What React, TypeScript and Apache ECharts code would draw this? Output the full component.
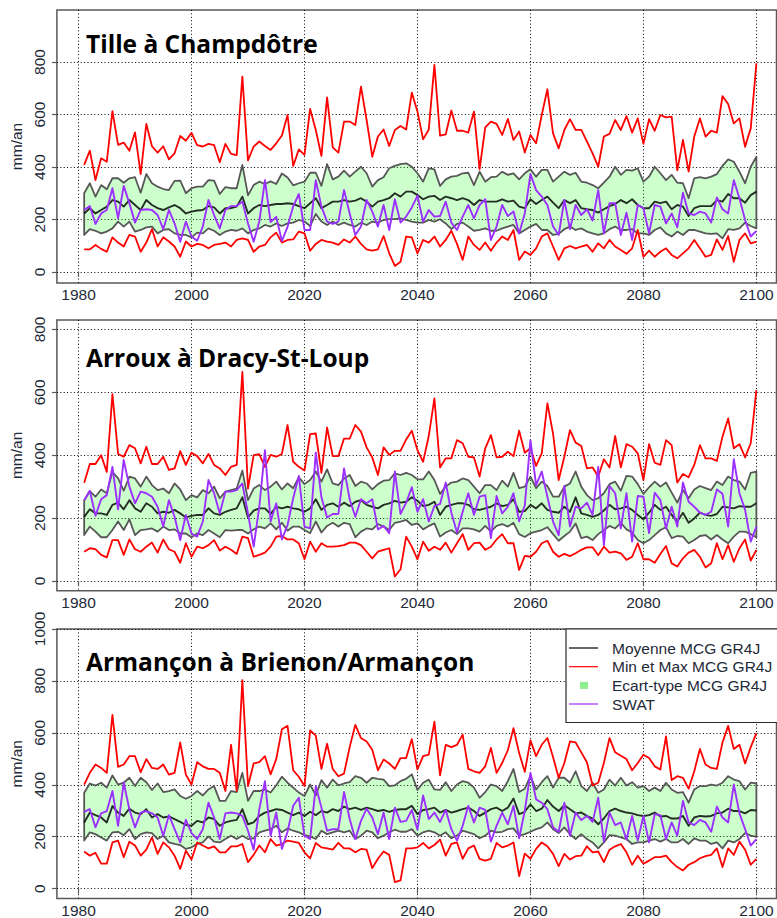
import React, { useEffect, useRef } from "react";
import * as echarts from "echarts";

// ---------- categories / ticks / texts ----------
const FIRST_YEAR = 1981;
const years: number[] = Array.from({ length: 120 }, (_, i) => FIRST_YEAR + i);
const xTickValues = [1980, 2000, 2020, 2040, 2060, 2080, 2100];
const yTicks800 = [0, 200, 400, 600, 800];
const yTicks1000 = [0, 200, 400, 600, 800, 1000];
const panelTitles = ["Tille à Champdôtre", "Arroux à Dracy-St-Loup", "Armançon à Brienon/Armançon"];
const legendLabels = ["Moyenne MCG GR4J", "Min et Max MCG GR4J", "Ecart-type MCG GR4J", "SWAT"];
const yName = "mm/an";

// ---------- Panel 1 : Tille à Champdôtre ----------
const p1Max = [
  408, 462, 350, 433, 420, 613, 484, 493, 462, 532,
  373, 564, 479, 455, 479, 429, 452, 518, 500, 530,
  483, 478, 488, 483, 418, 488, 450, 445, 744, 425,
  478, 497, 480, 465, 490, 520, 598, 404, 467, 446,
  621, 541, 442, 665, 475, 455, 573, 573, 560, 706,
  579, 439, 516, 543, 480, 541, 556, 543, 683, 611,
  505, 543, 789, 519, 524, 615, 538, 538, 531, 611,
  391, 551, 573, 564, 522, 583, 503, 535, 455, 522,
  490, 598, 696, 528, 471, 541, 582, 541, 541, 497,
  452, 401, 516, 526, 579, 541, 594, 531, 585, 488,
  582, 538, 598, 589, 592, 387, 503, 382, 516, 585,
  516, 538, 531, 670, 640, 566, 585, 477, 547, 795,
];
const p1Up = [
  300, 338, 287, 331, 315, 357, 357, 340, 357, 361,
  302, 373, 338, 325, 316, 312, 347, 348, 300, 319,
  325, 325, 350, 348, 297, 323, 319, 319, 408, 292,
  331, 344, 335, 345, 335, 375, 360, 330, 338, 344,
  378, 378, 328, 411, 353, 363, 386, 363, 382, 401,
  376, 325, 350, 361, 395, 404, 411, 414, 401, 376,
  344, 395, 391, 328, 353, 363, 366, 376, 378, 331,
  382, 344, 361, 363, 382, 370, 376, 353, 376, 391,
  363, 389, 389, 344, 363, 382, 370, 378, 344, 340,
  331, 319, 340, 363, 401, 370, 389, 386, 395, 344,
  363, 401, 376, 350, 370, 340, 338, 281, 357, 361,
  357, 363, 373, 404, 429, 420, 382, 338, 401, 439,
];
const p1Mean = [
  223, 243, 223, 236, 249, 274, 268, 249, 274, 255,
  236, 274, 255, 243, 236, 246, 255, 243, 223, 230,
  234, 236, 251, 246, 223, 243, 243, 249, 287, 223,
  243, 255, 251, 255, 259, 259, 262, 259, 251, 243,
  262, 281, 243, 255, 268, 268, 274, 268, 272, 281,
  268, 249, 268, 274, 281, 300, 287, 306, 306, 293,
  277, 287, 290, 274, 287, 281, 274, 281, 274, 255,
  274, 268, 268, 268, 277, 268, 272, 249, 243, 277,
  259, 274, 287, 264, 243, 274, 262, 274, 243, 239,
  236, 226, 239, 251, 259, 274, 262, 277, 255, 243,
  243, 268, 262, 268, 239, 255, 249, 213, 243, 251,
  251, 251, 274, 268, 297, 281, 281, 264, 293, 306,
];
const p1Low = [
  141, 163, 157, 147, 154, 166, 192, 173, 192, 154,
  160, 170, 173, 147, 160, 163, 147, 141, 141, 132,
  150, 147, 166, 157, 141, 154, 160, 157, 166, 147,
  160, 166, 179, 173, 185, 175, 185, 188, 198, 192,
  175, 221, 192, 179, 192, 179, 188, 179, 173, 188,
  179, 192, 188, 198, 201, 201, 204, 198, 192, 188,
  188, 198, 192, 201, 185, 163, 183, 188, 173, 157,
  160, 166, 157, 157, 166, 173, 179, 147, 160, 173,
  183, 160, 160, 141, 145, 163, 173, 160, 166, 154,
  147, 141, 147, 163, 173, 160, 160, 163, 147, 147,
  141, 160, 170, 147, 135, 154, 141, 160, 160, 154,
  147, 145, 147, 128, 163, 160, 166, 188, 175, 166,
];
const p1Min = [
  86, 86, 103, 88, 77, 132, 112, 97, 141, 135,
  77, 112, 163, 97, 132, 116, 97, 58, 116, 97,
  107, 103, 90, 103, 107, 112, 97, 122, 128, 122,
  77, 97, 103, 132, 150, 112, 122, 124, 154, 147,
  81, 107, 122, 116, 112, 103, 124, 112, 135, 107,
  86, 81, 86, 137, 71, 23, 39, 135, 132, 71,
  122, 112, 135, 97, 122, 157, 107, 46, 135, 103,
  84, 112, 81, 112, 135, 122, 160, 46, 78, 65,
  90, 135, 147, 97, 46, 90, 99, 90, 97, 103,
  77, 109, 90, 122, 97, 84, 69, 90, 160, 58,
  81, 58, 77, 90, 65, 52, 71, 90, 122, 90,
  58, 65, 124, 84, 137, 39, 122, 147, 109, 116,
];
const p1Swat = [
  236, 251, 183, 223, 236, 319, 204, 328, 262, 188,
  236, 239, 236, 217, 163, 236, 185, 115, 192, 135,
  119, 173, 274, 217, 166, 236, 251, 251, 268, 185,
  115, 192, 350, 190, 210, 118, 172, 250, 297, 160,
  160, 350, 249, 192, 183, 192, 312, 223, 141, 173,
  274, 230, 173, 255, 160, 277, 188, 211, 246, 290,
  192, 236, 211, 213, 268, 188, 160, 211, 255, 204,
  255, 277, 122, 173, 255, 213, 230, 147, 223, 373,
  312, 287, 255, 173, 141, 274, 163, 255, 217, 239,
  196, 312, 147, 262, 262, 141, 226, 122, 255, 243,
  147, 255, 249, 185, 223, 170, 302, 223, 217, 230,
  223, 188, 284, 239, 223, 350, 281, 198, 135, 156,
];

// ---------- Panel 2 : Arroux à Dracy-St-Loup ----------
const p2Max = [
  312, 372, 372, 400, 347, 594, 404, 395, 432, 422,
  374, 427, 372, 372, 395, 353, 358, 413, 369, 408,
  397, 374, 404, 369, 358, 337, 363, 369, 665, 294,
  400, 403, 363, 401, 395, 404, 496, 379, 363, 351,
  467, 469, 344, 488, 397, 397, 453, 453, 496, 475,
  425, 393, 337, 425, 401, 414, 414, 450, 478, 416,
  379, 461, 581, 361, 390, 390, 448, 438, 395, 393,
  332, 422, 464, 393, 395, 411, 397, 478, 408, 422,
  366, 406, 565, 469, 321, 395, 480, 440, 429, 358,
  361, 332, 387, 361, 461, 361, 435, 427, 406, 321,
  435, 376, 369, 448, 432, 313, 340, 330, 369, 432,
  390, 390, 382, 459, 517, 422, 435, 393, 438, 607,
];
const p2Up = [
  257, 286, 268, 291, 279, 347, 326, 287, 332, 326,
  300, 332, 305, 289, 294, 279, 310, 291, 257, 273,
  266, 289, 279, 300, 263, 284, 289, 294, 351, 257,
  294, 305, 289, 300, 316, 291, 310, 295, 330, 308,
  321, 348, 316, 355, 310, 305, 326, 337, 302, 316,
  310, 291, 308, 319, 321, 342, 337, 344, 337, 323,
  323, 348, 321, 277, 300, 313, 316, 326, 321, 300,
  279, 305, 305, 289, 319, 300, 344, 295, 300, 332,
  295, 316, 302, 268, 268, 300, 310, 348, 300, 273,
  257, 263, 279, 308, 316, 287, 334, 332, 308, 277,
  298, 316, 300, 313, 281, 249, 289, 263, 291, 302,
  295, 289, 316, 305, 332, 321, 316, 291, 344, 348,
];
const p2Mean = [
  204, 228, 215, 215, 210, 242, 249, 228, 257, 231,
  220, 247, 236, 215, 220, 217, 226, 215, 202, 207,
  210, 210, 231, 215, 210, 220, 226, 231, 266, 202,
  224, 231, 231, 213, 236, 231, 236, 231, 228, 220,
  231, 260, 226, 242, 247, 236, 249, 238, 252, 257,
  242, 236, 231, 242, 247, 255, 249, 252, 266, 255,
  238, 242, 252, 210, 236, 242, 247, 247, 242, 228,
  226, 231, 236, 247, 238, 242, 260, 220, 222, 242,
  231, 247, 226, 220, 217, 236, 220, 266, 215, 210,
  204, 210, 224, 242, 228, 231, 236, 226, 210, 196,
  217, 242, 226, 236, 210, 189, 217, 185, 199, 217,
  210, 207, 213, 236, 234, 231, 238, 236, 236, 247,
];
const p2Low = [
  146, 173, 157, 139, 139, 162, 189, 162, 196, 146,
  162, 164, 167, 157, 173, 162, 164, 151, 151, 139,
  151, 146, 162, 151, 139, 162, 160, 162, 162, 151,
  164, 173, 167, 183, 164, 185, 160, 173, 173, 162,
  152, 189, 154, 175, 185, 173, 185, 181, 139, 157,
  167, 164, 181, 173, 162, 185, 189, 194, 178, 183,
  164, 175, 183, 141, 154, 162, 149, 167, 167, 164,
  157, 175, 157, 175, 181, 173, 185, 149, 140, 152,
  157, 162, 171, 149, 128, 143, 157, 183, 136, 141,
  130, 149, 162, 175, 167, 185, 164, 154, 130, 120,
  130, 146, 162, 171, 136, 143, 141, 120, 130, 143,
  146, 132, 146, 132, 120, 141, 157, 157, 149, 139,
];
const p2Min = [
  93, 104, 101, 83, 75, 130, 130, 83, 132, 101,
  93, 109, 122, 90, 132, 101, 93, 58, 120, 77,
  109, 104, 114, 130, 97, 109, 99, 86, 141, 136,
  77, 83, 90, 109, 141, 143, 132, 132, 120, 69,
  125, 93, 120, 109, 109, 111, 114, 122, 122, 114,
  93, 72, 93, 99, 104, 14, 37, 141, 109, 69,
  125, 96, 109, 99, 122, 90, 120, 149, 99, 120,
  122, 99, 109, 132, 149, 120, 120, 35, 80, 77,
  93, 120, 128, 93, 77, 86, 79, 88, 99, 107,
  107, 82, 109, 90, 93, 88, 67, 77, 120, 69,
  69, 58, 86, 111, 56, 46, 72, 90, 99, 77,
  43, 56, 120, 69, 114, 61, 104, 132, 65, 99,
];
const p2Swat = [
  257, 287, 207, 260, 273, 363, 228, 385, 300, 247,
  284, 279, 268, 236, 173, 257, 204, 130, 210, 151,
  141, 189, 321, 279, 215, 284, 284, 289, 310, 215,
  109, 236, 416, 189, 247, 132, 178, 263, 334, 173,
  167, 408, 266, 202, 213, 213, 358, 260, 204, 260,
  247, 260, 164, 175, 152, 348, 213, 249, 298, 220,
  260, 189, 238, 245, 313, 217, 154, 220, 279, 210,
  268, 273, 136, 270, 215, 236, 279, 190, 240, 448,
  305, 348, 268, 189, 146, 302, 173, 236, 231, 249,
  210, 363, 114, 302, 279, 167, 279, 125, 270, 268,
  152, 281, 257, 167, 236, 173, 313, 252, 236, 217,
  210, 220, 291, 277, 173, 387, 279, 226, 125, 173,
];

// ---------- Panel 3 : Armançon à Brienon/Armançon ----------
const p3Max = [
  401, 446, 478, 465, 446, 669, 469, 478, 510, 510,
  448, 499, 465, 461, 478, 439, 446, 563, 439, 401,
  487, 471, 461, 461, 446, 376, 554, 376, 803, 395,
  482, 487, 510, 440, 499, 614, 627, 456, 431, 395,
  609, 589, 461, 558, 461, 433, 443, 545, 631, 580,
  567, 535, 456, 497, 482, 461, 503, 503, 576, 459,
  510, 516, 643, 436, 554, 545, 554, 593, 461, 452,
  446, 471, 542, 446, 484, 533, 618, 522, 450, 571,
  510, 554, 580, 507, 427, 484, 567, 563, 525, 487,
  397, 408, 484, 580, 525, 512, 499, 456, 484, 516,
  503, 471, 459, 586, 418, 433, 427, 385, 452, 538,
  478, 465, 461, 563, 627, 538, 554, 482, 545, 599,
];
const p3Up = [
  369, 405, 397, 408, 389, 436, 401, 408, 427, 395,
  427, 410, 380, 405, 372, 376, 382, 357, 346, 357,
  376, 359, 382, 395, 338, 338, 376, 372, 446, 338,
  376, 376, 382, 370, 398, 431, 408, 389, 370, 357,
  401, 359, 418, 389, 420, 398, 405, 410, 433, 427,
  408, 427, 423, 420, 395, 398, 414, 423, 440, 380,
  408, 420, 382, 380, 410, 376, 401, 414, 408, 389,
  350, 372, 401, 395, 376, 414, 461, 372, 385, 433,
  382, 410, 433, 389, 427, 427, 408, 452, 395, 376,
  408, 369, 382, 420, 397, 427, 397, 410, 389, 395,
  376, 389, 376, 408, 382, 369, 372, 331, 382, 395,
  395, 401, 397, 408, 433, 420, 414, 382, 408, 405,
];
const p3Mean = [
  255, 293, 283, 274, 255, 318, 293, 280, 308, 293,
  287, 306, 274, 287, 274, 278, 268, 257, 245, 242,
  261, 255, 274, 268, 242, 255, 261, 265, 306, 248,
  255, 280, 293, 299, 306, 303, 293, 283, 293, 280,
  296, 283, 299, 293, 306, 299, 316, 306, 312, 303,
  312, 306, 299, 303, 296, 303, 306, 306, 319, 287,
  303, 306, 312, 293, 303, 293, 299, 306, 312, 299,
  280, 293, 306, 312, 299, 312, 347, 287, 296, 325,
  299, 308, 341, 316, 299, 321, 306, 290, 293, 280,
  270, 248, 270, 299, 308, 299, 293, 290, 283, 280,
  283, 293, 278, 280, 270, 270, 280, 242, 274, 280,
  278, 280, 290, 293, 308, 299, 299, 290, 303, 301,
];
const p3Low = [
  185, 217, 210, 197, 185, 217, 219, 206, 229, 191,
  210, 217, 214, 191, 204, 178, 172, 168, 153, 159,
  172, 178, 201, 181, 178, 191, 204, 191, 204, 191,
  194, 217, 223, 229, 242, 217, 232, 223, 217, 206,
  201, 191, 223, 210, 217, 223, 217, 223, 191, 204,
  223, 217, 194, 204, 217, 227, 219, 219, 229, 204,
  217, 223, 217, 204, 217, 194, 204, 223, 217, 210,
  194, 204, 223, 217, 219, 229, 232, 204, 210, 219,
  229, 236, 255, 229, 214, 236, 210, 191, 210, 191,
  178, 155, 178, 206, 204, 197, 191, 172, 178, 178,
  185, 191, 181, 191, 178, 178, 191, 172, 194, 185,
  185, 172, 178, 155, 185, 178, 191, 214, 204, 199,
];
const p3Min = [
  143, 127, 138, 96, 96, 178, 185, 121, 181, 166,
  127, 150, 197, 134, 178, 159, 127, 76, 146, 112,
  178, 166, 155, 163, 140, 140, 163, 163, 172, 102,
  130, 166, 140, 191, 166, 172, 185, 181, 176, 140,
  117, 176, 159, 155, 150, 176, 155, 155, 140, 153,
  150, 79, 115, 143, 130, 25, 32, 155, 155, 159,
  176, 155, 168, 189, 127, 172, 178, 115, 155, 166,
  115, 108, 115, 176, 159, 166, 178, 48, 135, 115,
  153, 178, 163, 134, 87, 134, 112, 125, 127, 163,
  140, 143, 102, 150, 163, 172, 140, 92, 127, 96,
  108, 121, 121, 127, 102, 83, 70, 92, 102, 117,
  125, 130, 155, 83, 155, 130, 181, 150, 92, 115,
];
const p3Swat = [
  296, 306, 236, 290, 299, 376, 242, 408, 306, 236,
  293, 299, 290, 274, 204, 283, 229, 178, 265, 214,
  191, 229, 331, 274, 191, 290, 293, 290, 280, 223,
  150, 306, 414, 204, 293, 153, 219, 319, 350, 204,
  191, 395, 312, 223, 229, 229, 372, 268, 191, 261,
  308, 274, 210, 293, 191, 312, 257, 261, 303, 227,
  359, 268, 293, 257, 303, 229, 185, 242, 319, 255,
  312, 303, 181, 242, 293, 248, 319, 194, 300, 446,
  344, 331, 306, 236, 219, 331, 204, 293, 264, 280,
  257, 350, 181, 293, 245, 255, 189, 280, 185, 280,
  178, 287, 283, 191, 255, 204, 338, 255, 245, 265,
  255, 219, 316, 274, 255, 401, 290, 229, 166, 191,
];

const panelData = [
  { max: p1Max, up: p1Up, mean: p1Mean, low: p1Low, min: p1Min, swat: p1Swat, yTicks: yTicks800 },
  { max: p2Max, up: p2Up, mean: p2Mean, low: p2Low, min: p2Min, swat: p2Swat, yTicks: yTicks800 },
  { max: p3Max, up: p3Up, mean: p3Mean, low: p3Low, min: p3Min, swat: p3Swat, yTicks: yTicks1000 },
];

// ---------- layout (pixels) ----------
const layout = [
  { top: 10, height: 273, yMin: -42, yMax: 998, titleY: 44 },
  { top: 320, height: 270.7, yMin: -31, yMax: 830, titleY: 358 },
  { top: 629, height: 271, yMin: -38, yMax: 1000, titleY: 662 },
];
const X_MIN = 1976.17;
const X_MAX = 2103.56;
const GRID_LEFT = 54;
const GRID_RIGHT = 0.5;

const FONT = "'Liberation Sans', Arial, sans-serif";
const AXIS_TEXT = "#1e2a38";
const RED = "#ff0000";
const PURPLE = "#9b30ff";
const MEAN = "rgba(0,0,0,0.82)";
const EDGE = "#575757";
const BAND = "rgba(0,255,0,0.2)";

function pairs(arr: number[]) {
  return years.map((y, k) => [y, arr[k]]);
}

function buildOption() {
  const grid: any[] = [];
  const xAxis: any[] = [];
  const yAxis: any[] = [];
  const series: any[] = [];
  const graphic: any[] = [];

  layout.forEach((L, i) => {
    const D = panelData[i];
    grid.push({
      left: GRID_LEFT,
      right: GRID_RIGHT,
      top: L.top,
      height: L.height,
      show: true,
      borderColor: "#5a5a5a",
      borderWidth: 1.5,
      backgroundColor: "rgba(0,0,0,0)",
    });
    xAxis.push({
      type: "value",
      gridIndex: i,
      min: X_MIN,
      max: X_MAX,
      minInterval: 20,
      maxInterval: 20,
      axisLine: { show: false },
      axisTick: {
        show: true,
        inside: false,
        length: 5,
        customValues: xTickValues,
        lineStyle: { color: "#5a5a5a", width: 1.2 },
      },
      axisLabel: {
        show: true,
        margin: 3.5,
        fontSize: 15.5,
        fontFamily: FONT,
        color: AXIS_TEXT,
        customValues: xTickValues,
        formatter: (v: number) => String(v),
      },
      splitLine: { show: true, lineStyle: { color: "#000", width: 1, type: [1, 2.4] } },
    });
    yAxis.push({
      type: "value",
      gridIndex: i,
      min: L.yMin,
      max: L.yMax,
      minInterval: 200,
      maxInterval: 200,
      name: yName,
      nameLocation: "middle",
      nameRotate: 90,
      nameGap: 26,
      nameTextStyle: { fontSize: 15.5, fontFamily: FONT, color: AXIS_TEXT },
      axisLine: { show: false },
      axisTick: {
        show: true,
        inside: false,
        length: 5,
        customValues: D.yTicks,
        lineStyle: { color: "#5a5a5a", width: 1.2 },
      },
      axisLabel: {
        show: true,
        rotate: 90,
        margin: 9,
        fontSize: 15.5,
        fontFamily: FONT,
        color: AXIS_TEXT,
        customValues: D.yTicks,
        formatter: (v: number) => String(v),
      },
      splitLine: { show: true, lineStyle: { color: "#000", width: 1, type: [1, 2.4] } },
    });

    // standard-deviation band (mean ± sd) as a polygon through the axis scales
    series.push({
      type: "custom",
      xAxisIndex: i,
      yAxisIndex: i,
      z: 1,
      silent: true,
      data: [[years[0], D.low[0]]],
      renderItem: (_params: any, api: any) => {
        const pts: number[][] = [];
        for (let k = 0; k < years.length; k++) pts.push(api.coord([years[k], D.up[k]]));
        for (let k = years.length - 1; k >= 0; k--) pts.push(api.coord([years[k], D.low[k]]));
        return {
          type: "polygon",
          shape: { points: pts },
          style: { fill: BAND, stroke: EDGE, lineWidth: 1.8, lineJoin: "round" },
        };
      },
    });

    const lineSeries = (data: number[], color: string, width: number, z: number) => ({
      type: "line",
      xAxisIndex: i,
      yAxisIndex: i,
      data: pairs(data),
      symbol: "none",
      showSymbol: false,
      silent: true,
      z,
      lineStyle: { color, width, join: "round" },
    });
    series.push(lineSeries(D.max, RED, 1.8, 2));
    series.push(lineSeries(D.min, RED, 1.8, 2));
    series.push(lineSeries(D.mean, MEAN, 1.9, 3));
    series.push(lineSeries(D.swat, PURPLE, 1.9, 4));

    graphic.push({
      type: "text",
      left: 86,
      top: L.titleY - 13.5,
      z: 50,
      style: {
        text: panelTitles[i],
        fontFamily: "'Open Sans', 'Noto Sans', sans-serif",
        fontWeight: "bold",
        fontSize: 24.5,
        fill: "#000",
      },
    });
  });

  // legend box (panel 3)
  const lx = 566;
  const ly = 629;
  const rows = [648, 666.7, 685.4, 704];
  graphic.push({
    type: "rect",
    z: 60,
    shape: { x: lx, y: ly, width: 230, height: 93.5 },
    style: { fill: "#fff", stroke: "#2a2a2a", lineWidth: 1.2 },
  });
  const lineColors = ["#000", RED, null, PURPLE];
  rows.forEach((ry, r) => {
    const c = lineColors[r];
    if (c) {
      graphic.push({
        type: "line",
        z: 61,
        shape: { x1: 569, y1: ry, x2: 598, y2: ry },
        style: { stroke: c, lineWidth: 1.2 },
      });
    } else {
      graphic.push({
        type: "rect",
        z: 61,
        shape: { x: 580, y: ry - 3.5, width: 8, height: 7 },
        style: { fill: "#90ee90" },
      });
    }
    graphic.push({
      type: "text",
      z: 61,
      x: 612,
      y: ry,
      style: {
        text: legendLabels[r],
        fontFamily: FONT,
        fontSize: 15.5,
        fill: AXIS_TEXT,
        verticalAlign: "middle",
        align: "left",
      },
    });
  });

  return {
    animation: false,
    backgroundColor: "#ffffff",
    textStyle: { fontFamily: FONT },
    grid,
    xAxis,
    yAxis,
    series,
    graphic,
  };
}

export default function App() {
  const ref = useRef<HTMLDivElement | null>(null);
  useEffect(() => {
    if (!ref.current) return;
    const chart = echarts.init(ref.current, null, { renderer: "svg" });
    chart.setOption(buildOption() as any);
    return () => chart.dispose();
  }, []);
  return (
    <div
      ref={ref}
      style={{ position: "absolute", left: 0, top: 0, width: 777, height: 918, background: "#fff" }}
    />
  );
}
